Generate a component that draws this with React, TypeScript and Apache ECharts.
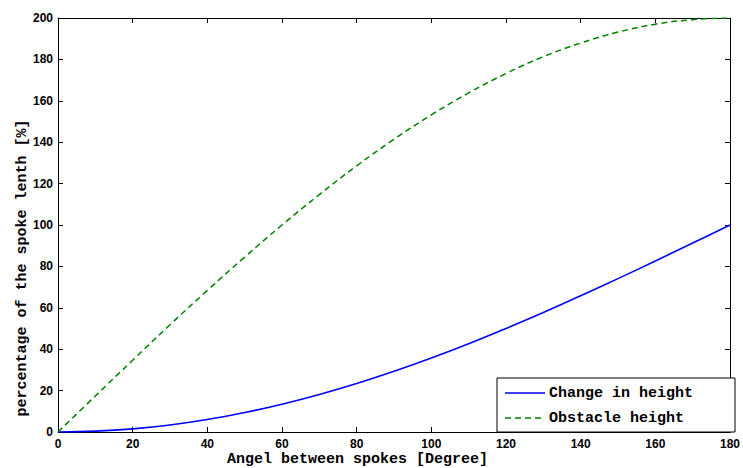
import React, { useEffect, useRef } from "react";
import * as echarts from "echarts";

const angles = [0, 10, 20, 30, 40, 50, 60, 70, 80, 90, 100, 110, 120, 130, 140, 150, 160, 170, 180];
const changeInHeight = [0, 0.4, 1.5, 3.4, 6.0, 9.4, 13.4, 18.1, 23.4, 29.3, 35.7, 42.6, 50.0, 57.7, 65.8, 74.1, 82.6, 91.3, 100];
const obstacleHeight = [0, 17.4, 34.7, 51.8, 68.4, 84.5, 100, 114.7, 128.6, 141.4, 153.2, 163.8, 173.2, 181.3, 187.9, 193.2, 197.0, 199.2, 200];
const seriesNames = ["Change in height", "Obstacle height"];
const xTitle = "Angel between spokes [Degree]";
const yTitle = "percentage of the spoke lenth [%]";

const mono = "'Liberation Mono', 'DejaVu Sans Mono', monospace";
const sans = "'Liberation Sans', Arial, sans-serif";

export default function App() {
  const ref = useRef<HTMLDivElement>(null);
  useEffect(() => {
    if (!ref.current) return;
    const chart = echarts.init(ref.current, null, { renderer: "svg" });
    const axisLine = { show: true, onZero: false, lineStyle: { color: "#000", width: 1 } };
    const tick = { show: true, inside: true, length: 5, lineStyle: { color: "#000" } };
    const label = { color: "#000", fontFamily: sans, fontWeight: "bold" as const, fontSize: 12 };
    chart.setOption({
      animation: false,
      backgroundColor: "#fff",
      grid: { left: 58, right: 8, top: 18, bottom: 36, containLabel: false },
      xAxis: [
        {
          type: "value", min: 0, max: 180, interval: 20, position: "bottom",
          axisLine, axisTick: tick, splitLine: { show: false },
          axisLabel: { ...label, margin: 6 },
        },
        {
          type: "value", min: 0, max: 180, interval: 20, position: "top",
          axisLine, axisTick: tick, splitLine: { show: false }, axisLabel: { show: false },
        },
      ],
      yAxis: [
        {
          type: "value", min: 0, max: 200, interval: 20, position: "left",
          axisLine, axisTick: tick, splitLine: { show: false },
          axisLabel: { ...label, margin: 5 },
        },
        {
          type: "value", min: 0, max: 200, interval: 20, position: "right",
          axisLine, axisTick: tick, splitLine: { show: false }, axisLabel: { show: false },
        },
      ],
      series: [
        {
          name: seriesNames[0], type: "line", smooth: 0.4, showSymbol: false,
          data: angles.map((a, i) => [a, changeInHeight[i]]),
          lineStyle: { color: "#0000ff", width: 1.6 }, itemStyle: { color: "#0000ff" },
        },
        {
          name: seriesNames[1], type: "line", smooth: 0.4, showSymbol: false,
          data: angles.map((a, i) => [a, obstacleHeight[i]]),
          lineStyle: { color: "#008000", width: 1.5, type: [6, 4] }, itemStyle: { color: "#008000" },
        },
      ],
      graphic: [
        {
          type: "text", left: 227, top: 452,
          style: { text: xTitle, font: `bold 15px ${mono}`, fill: "#000" },
        },
        {
          type: "text", x: 22, y: 268, rotation: Math.PI / 2,
          style: { text: yTitle, font: `bold 15px ${mono}`, fill: "#000", align: "center", verticalAlign: "middle" },
        },
        {
          type: "rect", shape: { x: 497, y: 378, width: 238, height: 54 },
          style: { fill: "#fff", stroke: "#000", lineWidth: 1 }, z: 100,
        },
        {
          type: "line", shape: { x1: 505, y1: 393, x2: 545, y2: 393 },
          style: { stroke: "#0000ff", lineWidth: 1.5 }, z: 101,
        },
        {
          type: "text", x: 549, y: 393,
          style: { text: seriesNames[0], font: `bold 15px ${mono}`, fill: "#000", verticalAlign: "middle" }, z: 101,
        },
        {
          type: "line", shape: { x1: 505, y1: 418, x2: 545, y2: 418 },
          style: { stroke: "#008000", lineWidth: 1.5, lineDash: [6, 4] }, z: 101,
        },
        {
          type: "text", x: 549, y: 418,
          style: { text: seriesNames[1], font: `bold 15px ${mono}`, fill: "#000", verticalAlign: "middle" }, z: 101,
        },
      ],
    });
    return () => chart.dispose();
  }, []);
  return (
    <div
      ref={ref}
      style={{ position: "absolute", left: 0, top: 0, width: 743, height: 468 }}
    />
  );
}
